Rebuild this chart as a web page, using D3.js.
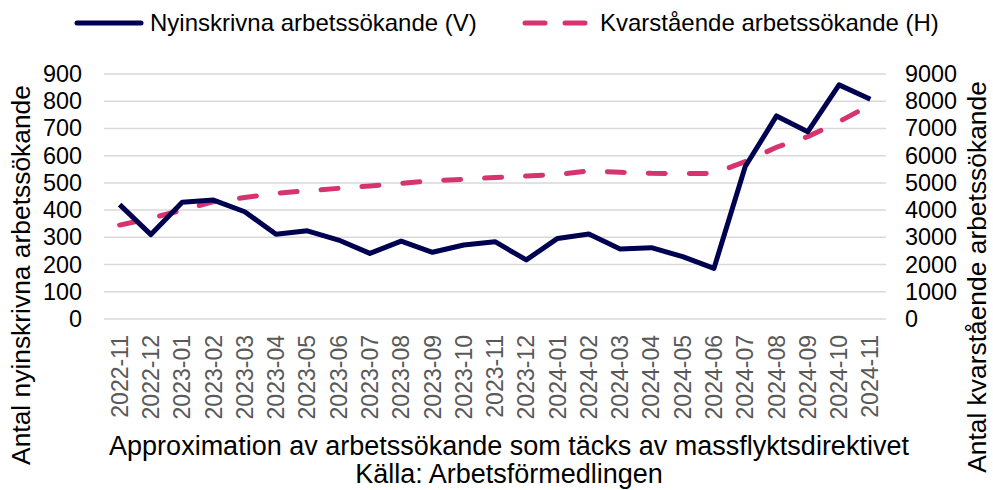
<!DOCTYPE html>
<html><head><meta charset="utf-8">
<script src="https://cdn.jsdelivr.net/npm/d3@7"></script>
<style>body{margin:0;background:#fff}svg{display:block}</style>
</head><body>
<script>
const categories = ["2022-11","2022-12","2023-01","2023-02","2023-03","2023-04","2023-05","2023-06","2023-07","2023-08","2023-09","2023-10","2023-11","2023-12","2024-01","2024-02","2024-03","2024-04","2024-05","2024-06","2024-07","2024-08","2024-09","2024-10","2024-11"];
const nyinskrivna = [420,310,429,437,394,311,324,290,241,286,245,272,284,217,296,312,257,262,229,186,560,746,688,860,807];
const kvarstaende = [3450,3700,4000,4310,4460,4620,4710,4800,4890,4985,5080,5130,5200,5250,5310,5440,5390,5350,5340,5350,5780,6310,6700,7250,7860];
const leftTicks = [0,100,200,300,400,500,600,700,800,900];
const rightTicks = [0,1000,2000,3000,4000,5000,6000,7000,8000,9000];
const seriesNames = ["Nyinskrivna arbetssökande (V)","Kvarstående arbetssökande (H)"];
const leftTitle = "Antal nyinskrivna arbetssökande";
const rightTitle = "Antal kvarstående arbetssökande";
const xTitle = ["Approximation av arbetssökande som täcks av massflyktsdirektivet","Källa: Arbetsförmedlingen"];

const W=993,H=490;
const navy="#000050", pink="#d6336f";
const font="Liberation Sans, Arial, sans-serif";
const svg=d3.select("body").append("svg").attr("width",W).attr("height",H).style("font-family",font);

const x=d3.scaleBand().domain(categories).range([104,886]);
const yL=d3.scaleLinear().domain([0,900]).range([319,74]);
const yR=d3.scaleLinear().domain([0,9000]).range([319,74]);
const cx=d=>x(d)+x.bandwidth()/2;

// gridlines
svg.append("g").selectAll("line").data(leftTicks).join("line")
  .attr("x1",104).attr("x2",886).attr("y1",d=>yL(d)).attr("y2",d=>yL(d))
  .attr("stroke","#d9d9d9").attr("stroke-width",1.5);

// left axis
const gl=svg.append("g").attr("transform","translate(104,0)")
  .call(d3.axisLeft(yL).tickValues(leftTicks).tickSize(0).tickPadding(22).tickFormat(d3.format("d")));
gl.select(".domain").remove();
gl.selectAll("text").attr("font-size",23.4).attr("fill","#000").style("font-family",font);

// right axis
const gr=svg.append("g").attr("transform","translate(886,0)")
  .call(d3.axisRight(yR).tickValues(rightTicks).tickSize(0).tickPadding(19).tickFormat(d3.format("d")));
gr.select(".domain").remove();
gr.selectAll("text").attr("font-size",23.4).attr("fill","#000").style("font-family",font);

// x axis
const gx=svg.append("g").attr("transform","translate(0,319)")
  .call(d3.axisBottom(x).tickSize(0).tickPadding(0));
gx.select(".domain").remove();
gx.selectAll("text").attr("font-size",23).attr("fill","#595959").style("font-family",font)
  .attr("text-anchor","end").attr("dy","0.35em")
  .attr("transform","translate(0,16) rotate(-90)").attr("x",0).attr("y",0);

// lines
const lineL=d3.line().x((d,i)=>cx(categories[i])).y(d=>yL(d));
const lineR=d3.line().x((d,i)=>cx(categories[i])).y(d=>yR(d));
svg.append("path").datum(kvarstaende).attr("d",lineR).attr("fill","none")
  .attr("stroke",pink).attr("stroke-width",5).attr("stroke-linecap","round")
  .attr("stroke-dasharray","17,24");
svg.append("path").datum(nyinskrivna).attr("d",lineL).attr("fill","none")
  .attr("stroke",navy).attr("stroke-width",5).attr("stroke-linejoin","round");

// titles
svg.append("text").attr("transform","translate(30,275) rotate(-90)").attr("text-anchor","middle")
  .attr("font-size",26.4).text(leftTitle);
svg.append("text").attr("transform","translate(986,277) rotate(-90)").attr("text-anchor","middle")
  .attr("font-size",26.4).text(rightTitle);
svg.append("text").attr("x",509).attr("y",455).attr("text-anchor","middle").attr("font-size",27).text(xTitle[0]);
svg.append("text").attr("x",509).attr("y",483).attr("text-anchor","middle").attr("font-size",27).text(xTitle[1]);

// legend
svg.append("line").attr("x1",77).attr("x2",141).attr("y1",23).attr("y2",23)
  .attr("stroke",navy).attr("stroke-width",5).attr("stroke-linecap","round");
svg.append("text").attr("x",150).attr("y",23).attr("dy","0.35em").attr("font-size",24).text(seriesNames[0]);
svg.append("line").attr("x1",525).attr("x2",585).attr("y1",23).attr("y2",23)
  .attr("stroke",pink).attr("stroke-width",5).attr("stroke-linecap","round").attr("stroke-dasharray","20,20");
svg.append("text").attr("x",600).attr("y",23).attr("dy","0.35em").attr("font-size",24).text(seriesNames[1]);
</script>
</body></html>
